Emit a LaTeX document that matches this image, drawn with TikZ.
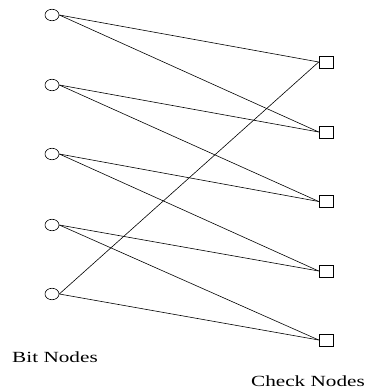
\documentclass[tikz,border=0pt]{standalone}
\usepackage{fontspec}
\setmainfont{Liberation Serif}
\usetikzlibrary{shapes.geometric}
\begin{document}
\begin{tikzpicture}[x=1pt,y=1pt,line width=0.6pt,
  bitnode/.style={draw,ellipse,minimum width=14pt,minimum height=11.5pt,inner sep=0pt},
  checknode/.style={draw,rectangle,minimum width=14pt,minimum height=12pt,inner sep=0pt},
  edge/.style={line width=0.6pt},
  lbl/.style={inner sep=0pt,font=\fontsize{15.5}{18}\selectfont}]
\useasboundingbox (0,0) rectangle (368,391);
% bit nodes (left column)
\node[bitnode] (b1) at (52,376) {};
\node[bitnode] (b2) at (52,306) {};
\node[bitnode] (b3) at (52,237) {};
\node[bitnode] (b4) at (52,166) {};
\node[bitnode] (b5) at (52,97) {};
% check nodes (right column)
\node[checknode] (c1) at (326,329) {};
\node[checknode] (c2) at (326,259) {};
\node[checknode] (c3) at (326,189.5) {};
\node[checknode] (c4) at (326,120) {};
\node[checknode] (c5) at (326,51) {};
% connections
\draw[edge] (b1.east) -- (c1.west);
\draw[edge] (b1.east) -- (c2.west);
\draw[edge] (b2.east) -- (c2.west);
\draw[edge] (b2.east) -- (c3.west);
\draw[edge] (b3.east) -- (c3.west);
\draw[edge] (b3.east) -- (c4.west);
\draw[edge] (b4.east) -- (c4.west);
\draw[edge] (b4.east) -- (c5.west);
\draw[edge] (b5.east) -- (c1.west);
\draw[edge] (b5.east) -- (c5.west);
% captions
\node[lbl,anchor=base] (lb) at (55,28) {\scalebox{1.37}[1]{Bit Nodes}};
\node[lbl,anchor=base] (lc) at (308,5) {\scalebox{1.37}[1]{Check Nodes}};
\end{tikzpicture}
\end{document}
